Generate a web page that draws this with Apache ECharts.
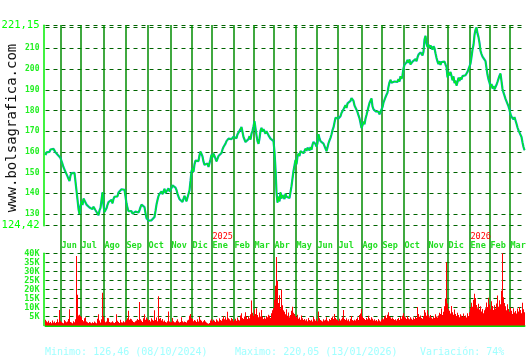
<!DOCTYPE html>
<html><head><meta charset="utf-8">
<script src="https://cdn.jsdelivr.net/npm/echarts@6/dist/echarts.min.js"></script>
<style>html,body{margin:0;padding:0;background:#fff}#c{width:530px;height:360px}</style>
</head><body><div id="c"></div>
<script>
// Daily closing prices (one per trading day)
const closePrices = [
158.5,159.8,159.2,160.4,160.0,161.2,161.8,160.9,161.5,160.6,
159.8,160.3,159.4,158.2,158.9,157.0,155.6,154.2,152.6,151.8,
150.4,149.6,148.2,147.0,146.0,148.6,149.8,150.3,149.1,149.9,
150.5,149.2,137.0,132.5,130.0,133.8,136.2,134.4,137.5,138.2,
137.0,134.6,133.8,134.9,133.2,134.0,133.5,132.4,133.6,132.8,
131.9,132.6,131.4,129.5,131.8,133.0,132.5,140.5,134.2,131.0,
130.2,132.8,134.5,135.8,136.6,135.4,136.9,135.2,137.3,138.4,
138.0,139.2,138.6,140.4,141.2,140.8,142.0,141.5,142.3,141.7,
138.5,135.2,133.0,131.4,132.0,130.6,131.5,130.2,131.0,130.4,
131.2,130.6,131.6,130.8,131.9,133.4,134.6,133.8,135.0,133.4,
130.5,128.0,127.3,126.9,127.6,126.5,127.0,127.8,127.2,128.6,
131.5,134.6,136.8,138.7,139.8,138.9,141.0,139.6,140.4,142.2,
140.2,139.5,141.1,142.4,141.0,140.1,142.6,143.9,143.0,144.6,
142.8,141.6,139.8,138.5,137.2,137.9,136.4,135.9,137.4,138.8,
137.6,136.2,135.8,135.4,141.5,146.0,150.6,152.2,150.4,154.0,
155.8,155.0,156.2,155.6,158.4,160.2,159.0,157.8,155.3,153.8,
154.6,153.2,154.4,152.8,153.6,156.5,158.6,157.4,159.2,158.0,
156.8,155.4,156.2,158.0,157.2,158.8,159.5,161.2,162.4,161.6,
164.0,165.2,164.6,166.4,165.5,167.0,166.2,165.6,167.4,166.8,
167.9,166.6,168.5,169.2,168.0,171.0,172.0,169.6,167.2,166.3,
164.8,163.9,164.6,166.2,167.6,166.0,168.8,170.2,172.4,174.8,
171.5,168.0,165.2,163.9,166.5,170.2,171.6,169.8,171.0,170.4,
168.8,170.0,169.2,168.0,167.5,166.4,165.8,166.9,165.2,160.0,
152.0,140.5,135.6,138.4,136.2,140.5,137.6,139.2,138.8,137.3,
139.8,138.4,137.6,139.0,137.8,140.6,143.5,147.2,150.8,153.5,
156.2,154.0,157.8,159.2,158.0,160.4,159.6,160.8,159.4,160.2,
161.6,160.5,162.0,161.2,160.8,162.3,161.0,163.5,164.8,165.4,
163.8,162.6,164.2,168.6,166.5,165.2,164.6,165.8,164.0,162.8,
161.6,160.4,162.2,164.2,165.6,166.8,168.4,170.5,171.8,174.2,
176.5,177.4,175.6,176.2,175.4,177.2,178.8,178.0,180.6,181.4,
182.6,181.2,183.4,184.0,182.8,184.6,186.0,185.2,184.6,182.4,
181.6,180.4,179.2,177.6,176.2,174.0,171.5,172.8,174.6,173.4,
176.0,177.8,178.6,181.8,183.6,184.2,185.8,182.0,180.6,181.4,
179.6,180.2,178.8,179.4,178.2,177.8,178.6,181.6,183.8,184.6,
186.4,187.6,188.6,191.5,193.6,194.8,193.4,194.2,193.0,194.0,
193.4,194.6,193.8,195.2,194.0,196.6,195.2,197.0,200.4,202.0,
201.4,203.2,204.4,203.0,204.6,202.2,201.8,203.6,204.2,203.4,
204.8,203.8,205.6,207.0,206.2,208.0,207.2,206.6,208.4,214.2,
216.0,212.4,210.6,211.8,210.2,211.4,212.0,209.4,211.0,210.0,
207.6,205.4,203.6,202.4,203.8,202.0,203.4,204.2,202.8,203.6,
202.2,201.0,196.0,198.2,197.0,198.6,196.8,194.6,196.4,193.2,
194.4,192.0,193.6,195.8,194.2,196.0,195.0,196.6,197.2,196.4,
197.0,196.2,198.6,199.4,198.2,202.6,205.8,209.4,211.6,216.4,
219.0,220.0,217.2,215.4,212.6,208.8,207.2,206.0,205.4,206.4,
203.8,200.4,197.2,195.0,193.4,191.6,192.8,190.6,191.8,190.2,
191.0,192.4,193.8,194.6,196.8,197.8,194.2,190.4,188.6,187.2,
185.6,184.4,183.2,182.0,180.4,178.2,177.0,176.4,175.8,176.8,
175.2,173.6,171.8,170.4,169.6,170.2,167.2,164.6,162.4,160.8
];
// Daily volume in thousands
const volumeK = [
3.2,2.4,1.8,2.6,1.5,2.0,1.2,2.8,1.6,2.2,
1.4,2.0,3.4,1.8,8.6,2.6,2.0,1.5,1.2,3.0,
2.4,1.8,2.2,3.6,9.0,2.0,1.6,1.2,2.4,1.8,
3.4,38.5,17.0,5.6,6.0,5.2,4.6,3.0,2.4,4.0,
4.6,2.2,1.8,1.4,2.0,1.6,1.2,1.8,1.4,2.2,
1.6,1.2,3.8,6.2,2.8,1.6,3.4,18.2,5.0,2.6,
1.8,2.2,4.2,4.0,2.0,1.6,1.8,2.4,1.6,1.4,
2.0,6.2,2.6,2.0,1.4,3.2,1.8,1.6,2.4,1.8,
2.2,3.0,4.0,8.2,3.2,3.8,3.4,2.6,2.0,1.8,
2.4,2.8,3.6,3.0,13.0,3.4,2.6,2.0,4.0,6.2,
3.2,4.4,3.6,2.8,3.0,2.2,4.0,3.2,2.6,8.4,
3.0,4.4,2.4,16.2,3.8,4.2,2.8,3.6,2.2,2.8,
2.0,1.6,2.4,7.8,2.2,1.8,2.0,4.2,2.4,1.8,
1.8,2.6,3.4,2.2,1.6,2.0,4.6,2.4,1.8,2.2,
2.0,1.6,2.8,3.2,5.4,6.4,4.2,3.6,2.4,3.0,
2.6,2.0,3.4,2.2,4.8,3.2,2.6,1.8,2.4,3.0,
2.2,1.6,1.2,1.0,1.4,2.8,3.6,2.4,3.2,2.6,
2.0,3.4,2.8,2.2,4.0,3.0,2.6,3.8,5.2,3.4,
4.6,3.2,7.6,4.0,3.4,2.8,4.2,3.6,2.4,3.0,
3.8,2.6,4.4,3.2,2.8,5.6,6.8,4.2,3.6,5.0,
7.4,4.8,3.6,5.2,4.0,6.2,13.8,7.0,5.4,8.8,
6.4,9.6,5.8,4.6,7.2,5.0,8.6,4.8,3.6,4.4,
3.8,5.2,4.6,6.0,5.4,4.2,6.8,8.4,9.6,14.2,
22.0,38.0,24.6,12.4,16.8,9.6,19.8,11.2,8.4,7.6,
6.2,9.0,5.4,7.2,4.6,5.8,8.2,10.4,7.0,6.4,
5.2,4.6,6.0,3.8,4.4,3.2,5.6,4.0,3.0,3.6,
2.8,3.4,2.4,4.2,3.0,2.6,3.2,2.2,4.8,3.4,
2.6,3.8,2.4,7.8,4.0,3.0,2.6,2.2,3.4,2.8,
3.2,4.6,2.8,2.4,3.6,3.0,4.2,5.0,3.6,6.4,
4.2,3.4,3.0,2.6,3.8,2.8,3.4,4.4,8.6,3.6,
3.0,4.0,2.8,3.4,2.4,3.8,5.2,3.0,2.6,3.2,
2.8,3.6,4.4,3.0,5.8,6.6,9.2,5.0,4.2,3.6,
3.0,4.2,3.4,5.4,4.0,3.2,4.6,3.8,2.8,3.4,
2.6,3.0,2.4,3.6,2.8,2.2,3.2,4.0,3.4,4.8,
5.6,4.2,6.0,7.4,5.2,4.6,3.8,4.4,3.6,3.0,
3.4,2.8,3.6,4.2,3.0,4.8,3.8,5.4,6.8,5.0,
4.4,3.6,5.2,4.0,3.4,4.6,3.8,3.2,4.4,3.6,
5.0,4.2,10.2,6.4,4.8,5.6,4.2,3.8,5.2,8.6,
7.2,5.4,8.4,6.0,4.6,5.8,4.4,3.8,5.0,4.2,
6.2,5.0,4.4,5.6,7.0,6.4,9.4,5.8,7.6,10.6,
14.8,35.0,12.2,9.0,8.2,6.6,10.8,7.4,6.0,8.8,
6.4,5.2,7.0,5.8,4.6,6.2,5.4,4.8,6.6,5.0,
5.6,4.4,6.8,5.2,7.4,9.8,12.6,10.4,14.2,17.6,
15.2,11.4,9.6,12.0,8.8,10.6,7.8,9.2,6.8,8.4,
9.6,12.8,10.2,15.4,11.6,9.0,13.4,10.8,8.6,11.2,
9.4,12.2,16.6,10.4,14.0,11.8,19.2,42.0,15.6,12.4,
10.6,8.4,11.8,9.2,7.6,10.0,8.2,6.4,9.6,7.2,
8.0,6.6,9.4,7.8,10.2,8.6,6.8,12.6,9.0,7.4
];
const monthLabels = ['Jun','Jul','Ago','Sep','Oct','Nov','Dic','Ene','Feb','Mar','Abr','May','Jun','Jul','Ago','Sep','Oct','Nov','Dic','Ene','Feb','Mar'];
const monthStart = [15,35,58,80,102,125,146,166,188,208,228,250,271,292,316,336,358,382,402,424,444,464];
const yearLabels = ['2025','2026'];
const yearStart = [166,424];
const priceMin = 124.42, priceMax = 221.15;
const priceTicks = [124.42,130,140,150,160,170,180,190,200,210,220,221.15];
const priceTickLabels = [124.42,130,140,150,160,170,180,190,200,210,221.15];
const volumeMax = 40, volumeStep = 5;
const siteText = 'www.bolsagrafica.com';
const minText = 'Minimo: 126,46 (08/10/2024)';
const maxText = 'Maximo: 220,05 (13/01/2026)';
const varText = 'Variación: 74%';

const cats = closePrices.map((_, i) => i);
const isMonth = (i) => monthStart.indexOf(i) >= 0;
const G = {left: 45.5, right: 5.5};
const mono = 'DejaVu Sans Mono';
const dash = {type: [4, 4], color: '#006400', width: 1};

const chart = echarts.init(document.getElementById('c'), null, {renderer: 'canvas'});
chart.setOption({
  animation: false,
  backgroundColor: '#ffffff',
  grid: [
    {left: G.left, right: G.right, top: 25.2, height: 200.5, outerBoundsMode: 'none'},
    {left: G.left, right: G.right, top: 253.3, bottom: 34.5, outerBoundsMode: 'none'},
    {left: G.left, right: G.right, top: 25, bottom: 34, outerBoundsMode: 'none'}
  ],
  xAxis: [
    {gridIndex: 0, type: 'category', data: cats, boundaryGap: false,
     axisLine: {show: false}, axisTick: {show: false}, axisLabel: {show: false}, splitLine: {show: false}},
    {gridIndex: 1, type: 'category', data: cats, boundaryGap: false, position: 'top',
     axisLine: {show: false}, axisTick: {show: false}, splitLine: {show: false},
     axisLabel: {show: true, interval: (i) => isMonth(i), align: 'left', margin: 3,
       fontFamily: mono, fontSize: 8.5, color: '#22dd22',
       formatter: (v) => {
         const i = Number(v); const k = monthStart.indexOf(i);
         if (k < 0) return '';
         const y = yearStart.indexOf(i);
         if (y >= 0) return '{y|' + yearLabels[y] + '}\n{m|' + monthLabels[k] + '}';
         return '{m|' + monthLabels[k] + '}';
       },
       rich: {y: {color: '#ff0000', fontFamily: mono, fontSize: 8.5, lineHeight: 9, padding:[0,0,0,1]},
              m: {color: '#22dd22', fontFamily: mono, fontSize: 8.5, fontWeight: 'bold', lineHeight: 9, padding:[0,0,0,1]}}}},
    {gridIndex: 2, type: 'category', data: cats, boundaryGap: false,
     axisLine: {show: true, lineStyle: {color: '#00dd00', width: 2}}, axisTick: {show: false}, axisLabel: {show: false},
     splitLine: {show: true, interval: (i) => isMonth(i), lineStyle: {color: '#008c00', width: 1.5}}}
  ],
  yAxis: [
    {gridIndex: 0, type: 'value', min: priceMin, max: priceMax, offset: 2,
     axisLine: {show: true, lineStyle: {color: '#00ee00', width: 1.5}},
     axisTick: {show: false, customValues: priceTicks},
     axisLabel: {customValues: priceTickLabels, margin: 4,
       formatter: (v) => (v === priceMin || v === priceMax) ? '{b|' + v.toFixed(2).replace('.', ',') + '}' : '{s|' + v + '}',
       rich: {b: {fontFamily: mono, fontSize: 10.5, color: '#00ff00'},
              s: {fontFamily: mono, fontSize: 8, fontWeight: 'bold', color: '#22ee22'}}},
     splitLine: {show: true, lineStyle: dash}},
    {gridIndex: 1, type: 'value', min: 0, max: volumeMax, interval: volumeStep, offset: 2,
     axisLine: {show: true, lineStyle: {color: '#00ee00', width: 1.5}},
     axisTick: {show: false},
     axisLabel: {margin: 4, fontFamily: mono, fontSize: 8.5, fontWeight: 'bold', color: '#22ee22',
       formatter: (v) => v === 0 ? '' : v + 'K'},
     splitLine: {show: true, lineStyle: dash}},
    {gridIndex: 2, type: 'value', show: false}
  ],
  series: [
    {type: 'line', xAxisIndex: 0, yAxisIndex: 0, data: closePrices, symbol: 'none', z: 3,
     lineStyle: {color: '#00a4b6', width: 2.2}},
    {type: 'line', xAxisIndex: 0, yAxisIndex: 0, data: closePrices, symbol: 'none', z: 4,
     lineStyle: {color: '#00ff00', width: 1}},
    {type: 'bar', xAxisIndex: 1, yAxisIndex: 1, data: volumeK, barWidth: 1, itemStyle: {color: '#ff0000'}}
  ],
  graphic: [
    {type: 'text', x: 12, y: 128, rotation: Math.PI / 2,
     style: {text: siteText, fontFamily: mono, fontSize: 14, fill: '#111', align: 'center', verticalAlign: 'middle'}},
    {type: 'text', x: 45, y: 352, style: {text: minText, fontFamily: mono, fontSize: 10, fill: '#a0ffff', verticalAlign: 'middle'}},
    {type: 'text', x: 235, y: 352, style: {text: maxText, fontFamily: mono, fontSize: 10, fill: '#a0ffff', verticalAlign: 'middle'}},
    {type: 'text', x: 420, y: 352, style: {text: varText, fontFamily: mono, fontSize: 10, fill: '#a0ffff', verticalAlign: 'middle'}}
  ]
});
</script></body></html>
